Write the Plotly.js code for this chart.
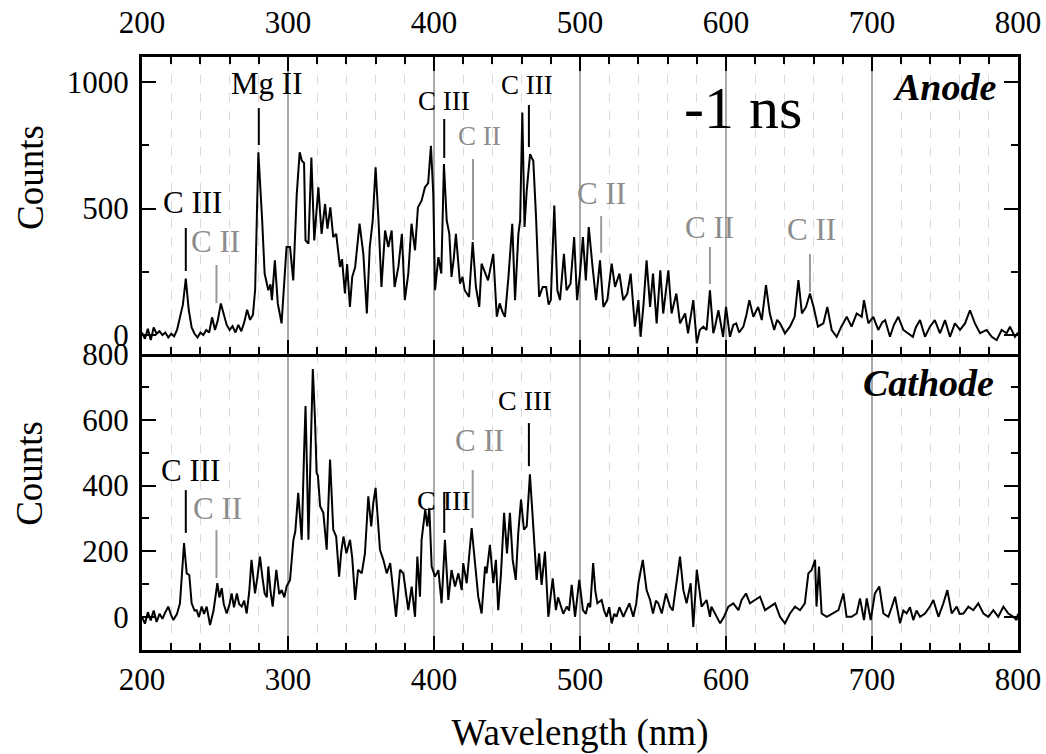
<!DOCTYPE html>
<html>
<head>
<meta charset="utf-8">
<script src="https://cdn.plot.ly/plotly-3.0.1.min.js"></script>
<style>html,body{margin:0;padding:0;background:#fff;}#chart{width:1046px;height:754px;}</style>
</head>
<body>
<div id="chart"></div>
<script>
// ---- Data: anode spectrum (-1 ns) ----
const anodeWl = [200,202,204,206,208,210,212,214,216,218,220,222,224,226,228,230,232,234,236,238,240,242,244,246,248,250,252,254,256,258,260,262,264,266,268,270,272,274,276,277.5,279.7,281,282.3,284,286.5,288,289,291,293,295.6,297,299,301.4,303.6,306,308,309.5,311,312,314,316,318,320.8,323,325.4,327,329,331,333,335.6,337,339,340.5,342.4,344,346,349,351.6,354,356,358,360,362,364,366.5,368.7,371,373,375.6,378,380,382.4,384.6,387,389,391.5,393.8,396,397.9,399.5,400.7,402,403,405,406.8,408.7,410.5,412,413.5,415,417.8,419.5,421,424,426.5,428.7,431,432.6,435,437,440.6,443,445,447,448.6,451,453.6,455.5,457.8,459,460.5,462,463.5,465.8,467,468,469.9,472,474.5,476.8,478.5,480,482.4,484.5,486.3,489,490.8,493.5,496,498,500,502,504,506,508.6,511,513.7,516,518.7,521.7,524,527,529.6,532.4,534.7,537.6,540,541.5,543.5,545.6,548,550,552.5,555,557,560.5,562.7,566,568.5,572,574,577.6,580,582,584.5,586.7,589,591.3,592.5,594.8,598,600,602.7,605,607,609,611.9,614,616,618.7,622,624.5,627.4,630,633,635,637,640.4,643.8,647,649.6,652,654.8,657.5,660,663,666.7,669.4,672.4,675.8,679,682.7,686,689.5,693,694.5,697.5,700.9,704.3,707,709,712.3,715,718,721.5,725,728,730,732.9,736.3,739.7,743,746.6,750,753.4,756.8,760.3,763.7,767.1,770.5,774,778.5,782,785.4,788.8,792.2,794.5,797.9,800];
const anodeCounts = [10,-15,25,-20,30,5,15,0,10,-10,5,-5,20,70,120,223,100,30,5,-10,10,0,20,10,70,20,60,125,80,40,20,35,10,40,15,50,100,60,80,180,722,600,453,243,177,200,138,295,125,46,190,348,348,216,558,722,689,680,374,361,702,374,584,400,518,420,505,387,400,269,300,164,280,111,230,269,440,321,85,348,450,663,453,190,413,348,413,190,269,400,138,243,440,335,505,531,584,600,748,558,177,250,308,243,676,453,400,230,300,400,203,230,177,151,367,190,111,282,243,216,321,72,125,90,72,230,440,138,400,453,880,427,571,715,700,689,466,151,190,190,120,138,512,177,138,321,177,203,387,138,243,387,216,427,269,138,295,111,138,282,190,243,138,164,243,33,138,-7,120,295,111,243,46,256,85,256,85,164,46,85,7,138,-33,20,33,20,177,7,33,98,-7,111,-7,40,46,10,33,80,138,72,111,59,197,85,20,60,46,7,33,72,217,85,111,164,111,33,46,111,20,-7,33,72,33,85,72,138,46,72,20,50,59,-7,40,72,20,7,-7,30,59,-7,33,59,7,59,-7,46,20,46,98,46,7,20,-7,-20,20,7,33,-7,10];

// ---- Data: cathode spectrum (-1 ns) ----
const cathodeWl = [200,202,204,206,208,210,212,214,216,218,220,221.5,224,226,228.8,230.6,232.4,234,236,237.4,239,240.9,242.5,244.3,246.6,249,251.6,253,254.6,256,258,260,261.4,263,265,266.5,268.3,270,271.7,273.5,275,277.4,279,280.8,282.5,284,285.5,286.5,288,289.5,292,294,295.7,297.5,299,301.4,303.7,305,307,308,309.4,311,312,313,314,315.5,317,318.5,319.6,320.5,322,324.2,326.5,328.8,331,333,335,336.5,338,340,342.5,344,346,348,350.5,352.7,355,357,358.5,360,361.5,363,365.3,367.6,370,372,374,375.5,376.7,379,380.5,382.4,384.7,387,388.6,390.4,391.5,394,395.4,396.8,398.4,400.7,403,405.2,407.5,409.8,412,414.4,416.7,419,420,422.4,425.8,428,430.3,432.6,435,436,438.3,440.6,442.4,444,445.9,448,450,452,453.9,456,457.7,459.6,461.6,463.5,465.7,468,470.3,472,473.7,476,478.3,479.8,481.3,483.5,485,486.3,488.5,490.9,492.5,494.3,496.6,499.5,502,504,505.7,507,509,510.5,511.9,514.8,516.5,518.2,520,521.7,523.5,525,527,529.7,531.5,533.8,536.5,538.5,540,543,545.6,548,550,552,553.6,556,558.9,561.6,563.5,565,566.5,568.5,570.8,573,575.8,577.6,580,583.3,586.7,589,590,592.5,593.6,596,598.6,601.6,605,608.5,610.7,613.7,616.4,619.9,623.3,626.7,630,633.6,637,640.4,643.8,647.3,650.7,654,656.4,658.7,661,662,663.7,665.5,669,673.5,677,680.4,682.6,686,689.5,691.8,694.5,696.4,699.1,702,705,707.8,711.2,713.5,715.8,719.2,721.5,723.7,726,728.3,730.5,732.9,736.3,739.7,742,745.5,748.9,751.6,754.6,758,760,762.6,766,769.4,772.8,776.3,779.7,783.1,786.5,790,793.4,796.8,799,800];
const cathodeCounts = [0,-20,15,-10,20,-15,10,-5,15,32,5,-9,10,42,225,133,128,42,20,21,0,32,10,32,-24,20,103,60,88,40,11,40,72,30,72,40,32,50,11,80,174,72,120,184,120,72,60,154,80,32,144,70,82,60,93,113,235,260,378,320,235,500,642,450,235,500,754,600,439,430,337,317,205,479,266,245,123,200,245,194,235,180,52,144,133,194,367,276,350,393,280,205,174,133,164,72,1,80,144,133,80,21,93,1,184,62,235,327,276,332,154,123,143,42,235,52,143,93,133,82,164,103,271,174,62,11,154,133,220,103,174,21,133,317,194,317,174,113,255,357,266,276,434,276,113,194,98,199,1,60,118,21,60,42,10,32,20,98,1,113,21,10,42,30,164,80,42,52,20,1,30,-19,10,1,30,1,20,42,1,40,103,174,82,52,11,50,42,11,72,32,20,72,110,184,82,42,103,-30,144,32,52,1,32,11,1,-19,1,32,42,21,52,72,42,52,62,21,32,42,1,-19,11,32,21,42,133,143,174,32,154,11,1,11,21,72,1,1,11,57,-9,57,-9,72,93,11,1,30,62,-19,20,11,30,-9,20,1,11,32,52,1,42,82,11,32,10,11,32,21,42,11,1,21,1,32,11,1,-9,10];

// ---- Tick labels / annotation labels ----
const xTicks = [200,300,400,500,600,700,800];
const anodeTicks = [0,500,1000];
const cathodeTicks = [0,200,400,600,800];
const yTitle = 'Counts';
const xTitle = 'Wavelength (nm)';
const anodeLines = [
  {label:'C III', wl:230,   ion:'C III'},
  {label:'C II',  wl:251,   ion:'C II'},
  {label:'Mg II', wl:280,   ion:'Mg II'},
  {label:'C III', wl:407,   ion:'C III'},
  {label:'C II',  wl:426.7, ion:'C II'},
  {label:'C III', wl:465,   ion:'C III'},
  {label:'C II',  wl:514.5, ion:'C II'},
  {label:'C II',  wl:589,   ion:'C II'},
  {label:'C II',  wl:657.5, ion:'C II'}
];
const cathodeLines = [
  {label:'C III', wl:230,   ion:'C III'},
  {label:'C II',  wl:251,   ion:'C II'},
  {label:'C III', wl:407,   ion:'C III'},
  {label:'C II',  wl:426.5, ion:'C II'},
  {label:'C III', wl:465,   ion:'C III'}
];

// ---- Styling / placement (layout only) ----
const FONT = 'Liberation Serif, Times New Roman, serif';
const BLACK = '#000000';
const GREY = '#8c8c8c';
const GREYLINE = '#9a9a9a';
// label placement: [textX(nm), textY(count), lineY0, lineY1, fontSize]
const anodePlace = [
  [234.6, 522, 253, 423, 31],
  [250.5, 368, 126, 277, 31],
  [285,   996, 751, 897, 31],
  [406.8, 925, 700, 854, 27],
  [431.5, 787, 375, 696, 27],
  [463.7, 988, 743, 909, 27],
  [514.4, 561, 324, 470, 31],
  [589,   427, 202, 348, 31],
  [658.9, 419, 170, 320, 31]
];
const cathodePlace = [
  [232.9, 447, 256, 386, 31],
  [252,   329, 119, 265, 31],
  [406.8, 356, 256, 380, 28],
  [431.5, 538, 301, 447, 31],
  [462.3, 660, 459, 590, 28]
];

const traces = [
  {x: anodeWl, y: anodeCounts, xaxis:'x2', yaxis:'y2', type:'scatter', mode:'lines',
   line:{color:BLACK, width:2}, hoverinfo:'skip', showlegend:false},
  {x: cathodeWl, y: cathodeCounts, xaxis:'x', yaxis:'y', type:'scatter', mode:'lines',
   line:{color:BLACK, width:2}, hoverinfo:'skip', showlegend:false}
];

const shapes = [];
const annotations = [];
function addLines(lines, place, xr, yr) {
  lines.forEach((ln, i) => {
    const p = place[i];
    const col = ln.ion === 'C II' ? GREY : BLACK;
    const lcol = ln.ion === 'C II' ? GREYLINE : BLACK;
    shapes.push({type:'line', xref:xr, yref:yr, x0:ln.wl, x1:ln.wl, y0:p[2], y1:p[3],
                 line:{color:lcol, width:2}});
    annotations.push({xref:xr, yref:yr, x:p[0], y:p[1], text:ln.label, showarrow:false,
                      xanchor:'center', yanchor:'middle', font:{family:FONT, size:p[4], color:col}});
  });
}
addLines(anodeLines, anodePlace, 'x2', 'y2');
addLines(cathodeLines, cathodePlace, 'x', 'y');

annotations.push({xref:'x2', yref:'y2', x:611.6, y:897, text:'-1 ns', showarrow:false,
  xanchor:'center', yanchor:'middle', font:{family:FONT, size:60, color:BLACK}});
annotations.push({xref:'x2', yref:'y2', x:786.3, y:980, text:'<b><i>Anode</i></b>', showarrow:false,
  xanchor:'right', yanchor:'middle', font:{family:FONT, size:38, color:BLACK}});
annotations.push({xref:'x', yref:'y', x:785, y:712, text:'<b><i>Cathode</i></b>', showarrow:false,
  xanchor:'right', yanchor:'middle', font:{family:FONT, size:38, color:BLACK}});

const titleFont = {family:FONT, size:37, color:BLACK};
// y-axis titles (placed like the reference, slightly above each panel's centre)
annotations.push({xref:'paper', yref:'paper', x:-0.128, y:0.7976, text:yTitle, textangle:-90,
  showarrow:false, xanchor:'center', yanchor:'middle', font:titleFont});
annotations.push({xref:'paper', yref:'paper', x:-0.128, y:0.2985, text:yTitle, textangle:-90,
  showarrow:false, xanchor:'center', yanchor:'middle', font:titleFont});

const tickFont = {family:FONT, size:31, color:BLACK};
const xCommon = {
  range:[200,800], tickvals:xTicks, ticktext:xTicks.map(String),
  ticks:'inside', ticklen:14, tickwidth:2, tickcolor:BLACK,
  showline:true, linecolor:BLACK, linewidth:3,
  showgrid:true, gridcolor:'#a9a9a9', gridwidth:1.5,
  minor:{dtick:20, tick0:200, ticks:'inside', ticklen:7, tickwidth:2, tickcolor:BLACK,
         showgrid:true, gridcolor:'#d9d9d9', griddash:'dash', gridwidth:1},
  zeroline:false, tickfont:tickFont, fixedrange:true
};
const DSPLIT = 296/593;

const layout = {
  width:1046, height:754,
  margin:{l:142, r:28, t:57, b:104},
  paper_bgcolor:'#ffffff', plot_bgcolor:'#ffffff',
  showlegend:false,
  xaxis: Object.assign({}, xCommon, {anchor:'y', domain:[0,1], side:'bottom', mirror:false,
    title:{text:xTitle, font:titleFont, standoff:24}}),
  xaxis2: Object.assign({}, xCommon, {anchor:'y2', domain:[0,1], side:'top', mirror:'ticks', matches:'x',
    ticklabelstandoff:9}),
  yaxis: {domain:[0, DSPLIT], range:[-100,800], anchor:'x',
    tickvals:cathodeTicks, ticktext:cathodeTicks.map(String),
    ticks:'inside', ticklen:14, tickwidth:2, tickcolor:BLACK, mirror:'ticks',
    showline:true, linecolor:BLACK, linewidth:3, showgrid:false, zeroline:false,
    minor:{dtick:100, tick0:0, ticks:'inside', ticklen:7, tickwidth:2, tickcolor:BLACK, showgrid:false},
    tickfont:tickFont, ticklabelstandoff:4, fixedrange:true},
  yaxis2: {domain:[DSPLIT, 1], range:[-75,1099], anchor:'x2',
    tickvals:anodeTicks, ticktext:anodeTicks.map(String),
    ticks:'inside', ticklen:14, tickwidth:2, tickcolor:BLACK, mirror:'ticks',
    showline:true, linecolor:BLACK, linewidth:3, showgrid:false, zeroline:false,
    minor:{dtick:250, tick0:0, ticks:'inside', ticklen:7, tickwidth:2, tickcolor:BLACK, showgrid:false},
    tickfont:tickFont, ticklabelstandoff:4, fixedrange:true},
  shapes: shapes,
  annotations: annotations
};

Plotly.newPlot('chart', traces, layout, {staticPlot:true, displayModeBar:false});
</script>
</body>
</html>
